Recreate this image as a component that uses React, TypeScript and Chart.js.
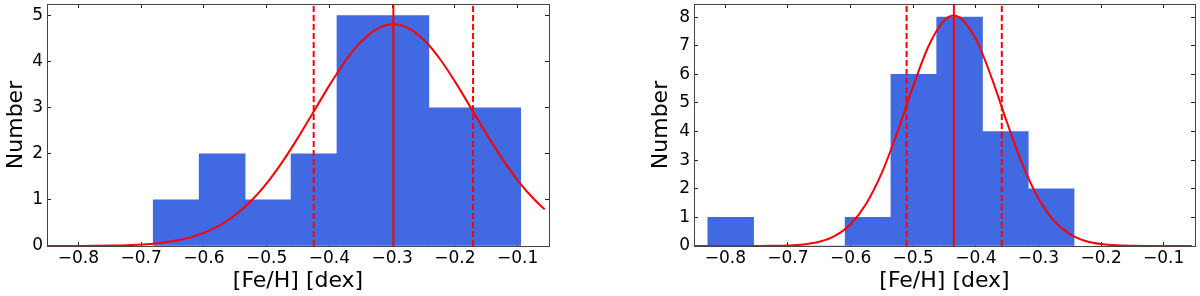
import React, { useEffect, useRef } from 'react';
import { Chart, registerables } from 'chart.js';

Chart.register(...registerables);

const FONT = '"DejaVu Sans", "Liberation Sans", sans-serif';
const BAR_COLOR = '#4169E1';
const RED = '#ff0000';

// Shared x axis
const X_MIN = -0.85;
const X_MAX = -0.05;
const X_TICKS = [-0.8, -0.7, -0.6, -0.5, -0.4, -0.3, -0.2, -0.1];
const X_TICK_LABELS = ['−0.8', '−0.7', '−0.6', '−0.5', '−0.4', '−0.3', '−0.2', '−0.1'];

// Left panel
const LEFT_BIN_CENTERS = [-0.6441, -0.5709, -0.4977, -0.4245, -0.3513, -0.2781, -0.2049, -0.1317];
const LEFT_COUNTS = [1, 2, 1, 2, 5, 5, 3, 3];
const LEFT_FIT_X = [
  -0.85, -0.823, -0.798, -0.773, -0.748, -0.723, -0.698, -0.673, -0.648, -0.623, -0.598,
  -0.573, -0.548, -0.523, -0.498, -0.473, -0.448, -0.423, -0.398, -0.373, -0.348, -0.323,
  -0.298, -0.273, -0.248, -0.223, -0.198, -0.173, -0.148, -0.123, -0.098, -0.073, -0.057,
];
const LEFT_FIT_Y = [
  0.0004, 0.0009, 0.0021, 0.0044, 0.009, 0.018, 0.034, 0.062, 0.108, 0.182, 0.295,
  0.461, 0.693, 1.002, 1.392, 1.862, 2.394, 2.963, 3.528, 4.041, 4.451, 4.718,
  4.81, 4.718, 4.451, 4.041, 3.528, 2.963, 2.394, 1.862, 1.392, 1.002, 0.795,
];
const LEFT_MEAN = -0.298;
const LEFT_LOW = -0.425;
const LEFT_HIGH = -0.171;
const LEFT_Y_MAX = 5.25;
const LEFT_Y_TICKS = [0, 1, 2, 3, 4, 5];

// Right panel
const RIGHT_BIN_CENTERS = [-0.7914, -0.7183, -0.6452, -0.5721, -0.499, -0.4259, -0.3528, -0.2797];
const RIGHT_COUNTS = [1, 0, 0, 1, 6, 8, 4, 2];
const RIGHT_FIT_X = [
  -0.85, -0.825, -0.8, -0.775, -0.75, -0.725, -0.7, -0.675, -0.65, -0.625, -0.6,
  -0.575, -0.55, -0.525, -0.5, -0.475, -0.45, -0.435, -0.425, -0.4, -0.375, -0.35,
  -0.325, -0.3, -0.275, -0.25, -0.225, -0.2, -0.175, -0.15, -0.125, -0.1, -0.075, -0.055,
];
const RIGHT_FIT_Y = [
  0, 0, 0.0001, 0.0004, 0.0015, 0.0055, 0.018, 0.055, 0.147, 0.354, 0.762,
  1.476, 2.562, 3.993, 5.584, 7.009, 7.895, 8.06, 7.981, 7.24, 5.895, 4.308,
  2.825, 1.662, 0.878, 0.416, 0.177, 0.068, 0.023, 0.0071, 0.002, 0.0005, 0.0001, 0,
];
const RIGHT_MEAN = -0.435;
const RIGHT_LOW = -0.5105;
const RIGHT_HIGH = -0.3585;
const RIGHT_Y_MAX = 8.46;
const RIGHT_Y_TICKS = [0, 1, 2, 3, 4, 5, 6, 7, 8];

type Panel = {
  binCenters: number[];
  counts: number[];
  fitX: number[];
  fitY: number[];
  mean: number;
  low: number;
  high: number;
  yMax: number;
  yTicks: number[];
  padLeft: number;
  padRight: number;
  yWidth: number;
  yTitlePad: number;
};

function zeroPad(s: any) {
  s.paddingTop = 0;
  s.paddingBottom = 0;
  s.paddingLeft = 0;
  s.paddingRight = 0;
}

function buildConfig(p: Panel): any {
  const tickFont = { family: FONT, size: 17 };
  const titleFont = { family: FONT, size: 22 };
  const setTicks = (vals: number[]) => (scale: any) => {
    scale.ticks = vals.map((v) => ({ value: v }));
  };
  const grid = {
    display: true,
    drawOnChartArea: false,
    drawTicks: true,
    tickLength: -4,
    tickColor: '#222',
    tickWidth: 1,
    offset: false,
  };
  const border = { display: true, color: '#444', width: 1 };
  const vline = (x: number, dashed: boolean) => ({
    type: 'line',
    data: [
      { x, y: 0 },
      { x, y: p.yMax },
    ],
    borderColor: RED,
    borderWidth: 2,
    borderDash: dashed ? [6, 3] : [],
    pointRadius: 0,
    xAxisID: 'x',
    yAxisID: 'y',
    order: 1,
  });
  return {
    type: 'line',
    data: {
      datasets: [
        {
          type: 'bar',
          data: p.binCenters.map((x, i) => ({ x, y: p.counts[i] })),
          backgroundColor: BAR_COLOR,
          borderWidth: 0,
          barPercentage: 1,
          categoryPercentage: 1,
          xAxisID: 'x',
          yAxisID: 'y',
          order: 3,
        },
        {
          type: 'line',
          data: p.fitX.map((x, i) => ({ x, y: p.fitY[i] })),
          borderColor: RED,
          borderWidth: 2,
          pointRadius: 0,
          cubicInterpolationMode: 'monotone',
          xAxisID: 'x',
          yAxisID: 'y',
          order: 1,
        },
        vline(p.mean, false),
        vline(p.low, true),
        vline(p.high, true),
      ],
    },
    options: {
      animation: false,
      responsive: false,
      events: [],
      layout: { padding: { left: p.padLeft, right: p.padRight, top: 4, bottom: 0 } },
      plugins: { legend: { display: false }, tooltip: { enabled: false } },
      scales: {
        x: {
          type: 'linear',
          position: 'bottom',
          min: X_MIN,
          max: X_MAX,
          offset: false,
          grid,
          border,
          afterBuildTicks: setTicks(X_TICKS),
          afterFit: (s: any) => {
            s.height = 50;
            zeroPad(s);
          },
          ticks: {
            autoSkip: false,
            maxRotation: 0,
            minRotation: 0,
            padding: 6,
            font: tickFont,
            color: '#000',
            callback: (_v: any, i: number) => X_TICK_LABELS[i],
          },
          title: {
            display: true,
            text: '[Fe/H] [dex]',
            font: titleFont,
            color: '#000',
            padding: { top: 0, bottom: 2 },
          },
        },
        x2: {
          type: 'linear',
          position: 'top',
          min: X_MIN,
          max: X_MAX,
          offset: false,
          grid,
          border,
          afterBuildTicks: setTicks(X_TICKS),
          afterFit: (s: any) => {
            s.height = 0;
            zeroPad(s);
          },
          ticks: { display: false },
        },
        y: {
          type: 'linear',
          position: 'left',
          min: 0,
          max: p.yMax,
          grid,
          border,
          afterBuildTicks: setTicks(p.yTicks),
          afterFit: (s: any) => {
            s.width = p.yWidth;
            zeroPad(s);
          },
          ticks: {
            autoSkip: false,
            padding: 8,
            font: tickFont,
            color: '#000',
            callback: (v: any) => String(v),
          },
          title: {
            display: true,
            text: 'Number',
            font: titleFont,
            color: '#000',
            padding: { top: p.yTitlePad, bottom: 0 },
          },
        },
        y2: {
          type: 'linear',
          position: 'right',
          min: 0,
          max: p.yMax,
          grid,
          border,
          afterBuildTicks: setTicks(p.yTicks),
          afterFit: (s: any) => {
            s.width = 0;
            zeroPad(s);
          },
          ticks: { display: false },
        },
      },
    },
  };
}

const LEFT_PANEL: Panel = {
  binCenters: LEFT_BIN_CENTERS,
  counts: LEFT_COUNTS,
  fitX: LEFT_FIT_X,
  fitY: LEFT_FIT_Y,
  mean: LEFT_MEAN,
  low: LEFT_LOW,
  high: LEFT_HIGH,
  yMax: LEFT_Y_MAX,
  yTicks: LEFT_Y_TICKS,
  padLeft: 0,
  padRight: 51,
  yWidth: 47,
  yTitlePad: 3,
};

const RIGHT_PANEL: Panel = {
  binCenters: RIGHT_BIN_CENTERS,
  counts: RIGHT_COUNTS,
  fitX: RIGHT_FIT_X,
  fitY: RIGHT_FIT_Y,
  mean: RIGHT_MEAN,
  low: RIGHT_LOW,
  high: RIGHT_HIGH,
  yMax: RIGHT_Y_MAX,
  yTicks: RIGHT_Y_TICKS,
  padLeft: 40,
  padRight: 5,
  yWidth: 54,
  yTitlePad: 8,
};

function HistPanel({ panel, left }: { panel: Panel; left: number }) {
  const ref = useRef<HTMLCanvasElement | null>(null);
  useEffect(() => {
    if (!ref.current) return;
    const chart = new Chart(ref.current, buildConfig(panel));
    return () => chart.destroy();
  }, [panel]);
  return (
    <canvas
      ref={ref}
      width={600}
      height={296}
      style={{ position: 'absolute', left, top: 0, width: 600, height: 296, display: 'block' }}
    />
  );
}

export default function App() {
  return (
    <div style={{ position: 'absolute', left: 0, top: 0, width: 1200, height: 296, background: '#fff' }}>
      <HistPanel panel={LEFT_PANEL} left={0} />
      <HistPanel panel={RIGHT_PANEL} left={600} />
    </div>
  );
}
